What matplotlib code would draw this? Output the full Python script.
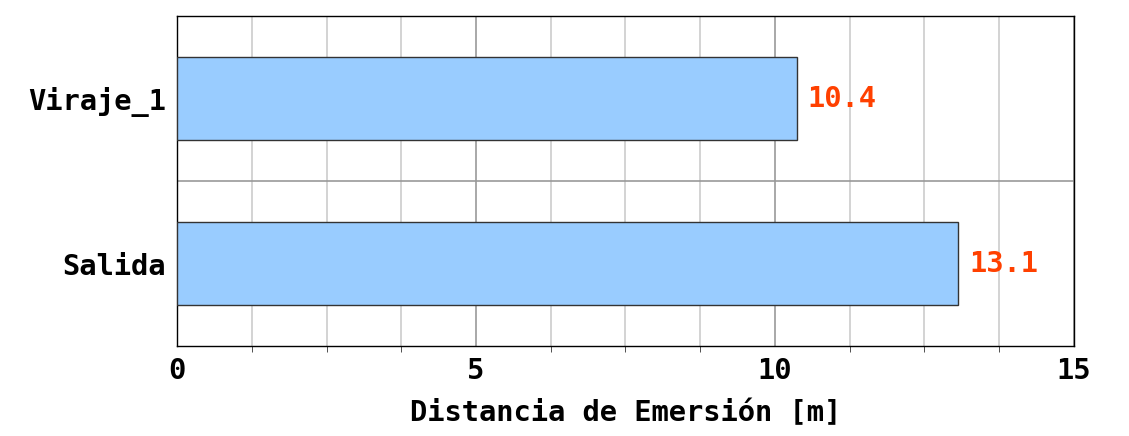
import matplotlib
matplotlib.use('Agg')
import matplotlib.pyplot as plt
import matplotlib.ticker as mtick

# Datos
categorias = ['Salida', 'Viraje_1']
distancias = [13.07, 10.37]

color_barra = '#99ccff'
color_valor = '#ff4000'
fs = 20.7

plt.rcParams['font.family'] = 'DejaVu Sans Mono'
plt.rcParams['font.weight'] = 'bold'

fig, ax = plt.subplots(figsize=(11.29, 4.36), dpi=100)
fig.subplots_adjust(left=0.157, right=0.951, top=0.963, bottom=0.206)

posiciones = list(range(len(categorias)))
ax.barh(posiciones, distancias, height=0.5, color=color_barra,
        edgecolor='#333333', linewidth=1.0, zorder=3)

for y, v in zip(posiciones, distancias):
    ax.text(v + 0.18, y, f'{v:.1f}', color=color_valor, fontsize=fs,
            fontweight='bold', va='center', ha='left', zorder=4)

ax.set_xlim(0, 15)
ax.set_ylim(-0.5, 1.5)
ax.set_yticks(posiciones)
ax.set_yticklabels(categorias, fontsize=fs, fontweight='bold')
ax.xaxis.set_major_locator(mtick.MultipleLocator(5))
ax.xaxis.set_minor_locator(mtick.MultipleLocator(1.25))
ax.yaxis.set_minor_locator(mtick.FixedLocator([0.5]))

ax.tick_params(axis='x', which='major', labelsize=fs, length=0, pad=8)
ax.tick_params(axis='x', which='minor', length=4, color='#333333')
ax.tick_params(axis='y', which='both', length=0, pad=8)

ax.set_axisbelow(True)
ax.grid(True, axis='x', which='major', color='#999999', linewidth=1.2)
ax.grid(True, axis='x', which='minor', color='#cccccc', linewidth=1.2)
ax.grid(True, axis='y', which='minor', color='#999999', linewidth=1.2)

for s in ax.spines.values():
    s.set_color('black')
    s.set_linewidth(1.0)

ax.set_xlabel('Distancia de Emersión [m]', fontsize=fs, fontweight='bold', labelpad=10)

fig.savefig('out.png', dpi=100)
